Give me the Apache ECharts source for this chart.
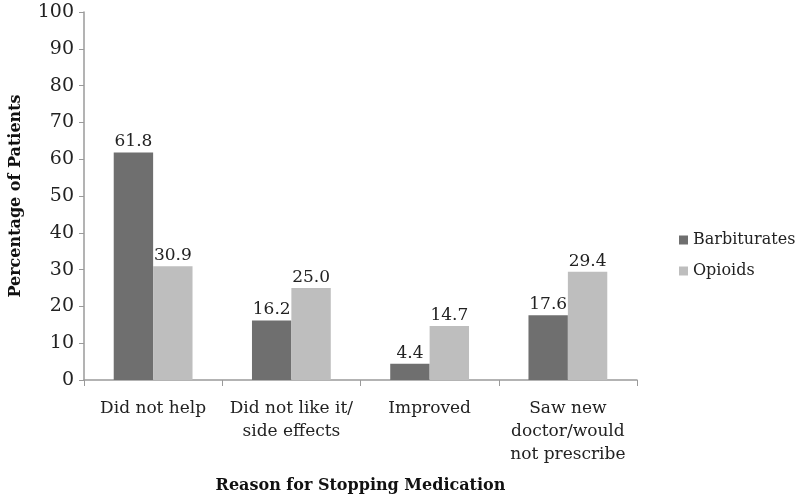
<!DOCTYPE html>
<html><head><meta charset="utf-8">
<script src="https://cdn.jsdelivr.net/npm/echarts@6/dist/echarts.min.js"></script>
<style>html,body{margin:0;padding:0;background:#fff}#c{width:800px;height:499px}</style>
</head><body><div id="c"></div>
<script>
const categories = ["Did not help", "Did not like it/\nside effects", "Improved", "Saw new\ndoctor/would\nnot prescribe"];
const barbiturates = [61.8, 16.2, 4.4, 17.6];
const opioids = [30.9, 25.0, 14.7, 29.4];
const seriesNames = ["Barbiturates", "Opioids"];
const yTicks = { min: 0, max: 100, interval: 10 };

const font = "DejaVu Serif";
const chart = echarts.init(document.getElementById('c'));
const lbl = {show: true, position: 'top', color: '#222', fontFamily: font, fontSize: 17, distance: 2, formatter: p => p.value.toFixed(1)};
chart.setOption({
  animation: false,
  textStyle: {fontFamily: font},
  grid: {left: 80, top: 12, right: 163, bottom: 118},
  legend: {
    orient: 'vertical', left: 674, top: 227, itemWidth: 9, itemHeight: 9, itemGap: 15,
    icon: 'rect', textStyle: {fontFamily: font, fontSize: 16, color: '#222'},
    data: seriesNames
  },
  xAxis: {
    type: 'category', data: categories,
    name: 'Reason for Stopping Medication', nameLocation: 'middle', nameGap: 98,
    nameTextStyle: {fontFamily: font, fontSize: 16, fontWeight: 'bold', color: '#111'},
    axisLine: {lineStyle: {color: '#9a9a9a', width: 1.5}},
    axisTick: {show: true, length: 6, lineStyle: {color: '#9a9a9a'}},
    axisLabel: {fontFamily: font, fontSize: 17, color: '#222', margin: 17, lineHeight: 23, interval: 0}
  },
  yAxis: {
    type: 'value', min: yTicks.min, max: yTicks.max, interval: yTicks.interval,
    name: 'Percentage of Patients', nameLocation: 'middle', nameGap: 60,
    nameTextStyle: {fontFamily: font, fontSize: 16, fontWeight: 'bold', color: '#111'},
    axisLine: {show: true, lineStyle: {color: '#9a9a9a', width: 1.5}},
    axisTick: {show: true, length: 5, lineStyle: {color: '#9a9a9a'}},
    splitLine: {show: false},
    axisLabel: {fontFamily: font, fontSize: 19, color: '#222', margin: 10}
  },
  series: [
    {name: seriesNames[0], type: 'bar', data: barbiturates, barGap: '0%', barCategoryGap: '43%', itemStyle: {color: '#6f6f6f'}, label: lbl},
    {name: seriesNames[1], type: 'bar', data: opioids, itemStyle: {color: '#bebebe'}, label: lbl}
  ]
});
</script></body></html>
